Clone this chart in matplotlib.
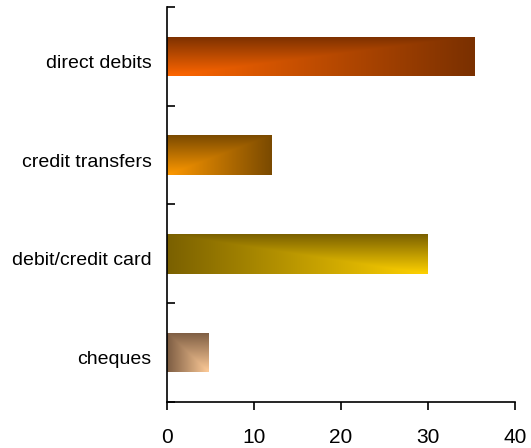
import numpy as np
import matplotlib

matplotlib.use("Agg")
import matplotlib.pyplot as plt
from matplotlib.colors import to_rgb
from matplotlib.transforms import ScaledTranslation

categories = ["cheques", "debit/credit card", "credit transfers", "direct debits"]
values = [4.8, 29.9, 12.0, 35.3]
# (bright colour, dark colour, bright corner side)
bright = ["#FFCC99", "#FFD200", "#FF9900", "#FF6600"]
dark = ["#7C5C42", "#7A6000", "#7A4A00", "#7A3000"]
corner = ["right", "right", "left", "left"]
xticks = [0, 10, 20, 30, 40]

plt.rcParams["font.family"] = ["Liberation Sans", "DejaVu Sans"]

fig = plt.figure(figsize=(5.31, 4.48), dpi=100)
ax = fig.add_axes([0.3145, 0.1027, 0.6555, 0.8817])

h = 0.4
ypos = np.arange(len(categories))
bars = ax.barh(ypos, values, height=h, color="none", edgecolor="none")

n = 200
u = np.linspace(0, 1, n)
U, V = np.meshgrid(u, u)  # V: 0 at bottom, 1 at top (origin lower)
for bar, b, d, c in zip(bars, bright, dark, corner):
    xs = U if c == "left" else 1 - U
    t = np.maximum(xs, V)
    cb, cd = np.array(to_rgb(b)), np.array(to_rgb(d))
    img = cb[None, None, :] * (1 - t[..., None]) + cd[None, None, :] * t[..., None]
    x0, y0 = bar.get_x(), bar.get_y()
    im = ax.imshow(img, extent=[x0, x0 + bar.get_width(), y0, y0 + bar.get_height()],
                   origin="lower", aspect="auto", zorder=2, interpolation="bilinear")
    im.set_clip_path(bar)

ax.set_xlim(0, 40)
ax.set_ylim(-0.5, 3.5)
ax.set_xticks(xticks)
ax.set_xticklabels([str(x) for x in xticks], fontsize=15)
ax.tick_params(axis="x", direction="out", length=6, width=1.2, pad=13)

ax.set_yticks(np.arange(-0.5, 4, 1))
ax.set_yticklabels([])
ax.set_yticks(ypos, minor=True)
ax.set_yticklabels(categories, minor=True, fontsize=14)
ax.tick_params(axis="y", which="major", direction="in", length=6, width=1.2)
ax.tick_params(axis="y", which="minor", length=0, pad=11)
shift = ScaledTranslation(0, -5 / 100, fig.dpi_scale_trans)
for lbl in ax.get_yticklabels(minor=True):
    lbl.set_transform(lbl.get_transform() + shift)

for s in ["top", "right"]:
    ax.spines[s].set_visible(False)
for s in ["left", "bottom"]:
    ax.spines[s].set_linewidth(1.2)

fig.savefig("out.png", dpi=100)
